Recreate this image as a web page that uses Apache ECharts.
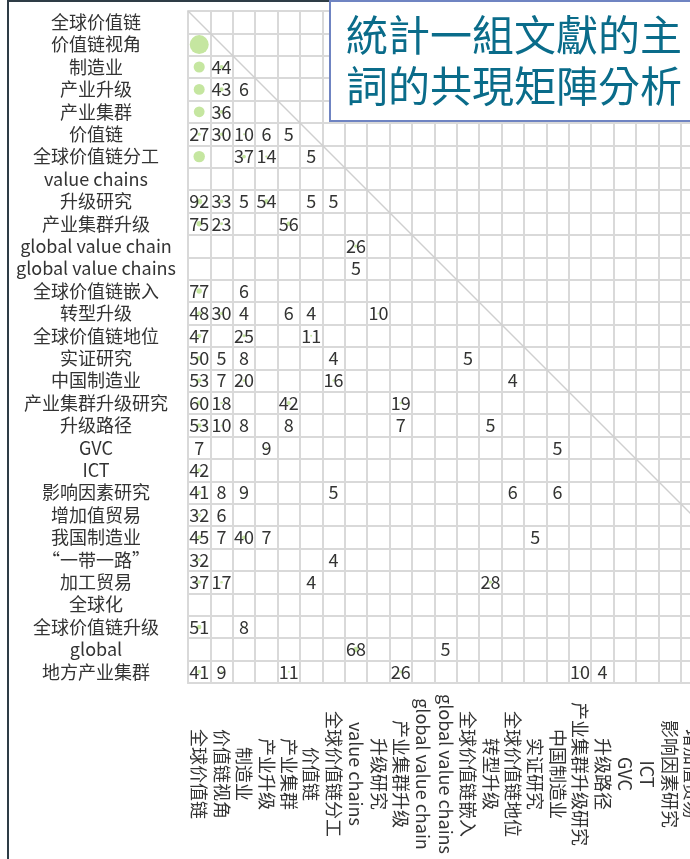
<!DOCTYPE html>
<html>
<head>
<meta charset="utf-8">
<script src="https://cdn.jsdelivr.net/npm/echarts@6/dist/echarts.min.js"></script>
<style>
html,body{margin:0;padding:0;overflow:hidden;background:#fff;width:690px;height:859px;}
#frame{position:absolute;left:7px;top:0;width:1000px;height:1000px;border-left:2px solid #2e3c46;border-top:2px solid #2e3c46;}
#chart{position:absolute;left:0;top:0;width:880px;height:859px;}
</style>
</head>
<body>
<div id="frame"></div>
<div id="chart"></div>
<script>
// keyword categories (rows top->bottom, columns left->right)
const terms = ['全球价值链','价值链视角','制造业','产业升级','产业集群','价值链','全球价值链分工','value chains','升级研究','产业集群升级','global value chain','global value chains','全球价值链嵌入','转型升级','全球价值链地位','实证研究','中国制造业','产业集群升级研究','升级路径','GVC','ICT','影响因素研究','增加值贸易','我国制造业','“一带一路”','加工贸易','全球化','全球价值链升级','global','地方产业集群'];

// co-occurrence cells: [rowIndex, colIndex, count]
const cooccurrence = [
  [1,0,940],
  [2,0,320],[2,1,44],
  [3,0,310],[3,1,43],[3,2,6],
  [4,0,300],[4,1,36],
  [5,0,27],[5,1,30],[5,2,10],[5,3,6],[5,4,5],
  [6,0,340],[6,2,37],[6,3,14],[6,5,5],
  [8,0,92],[8,1,33],[8,2,5],[8,3,54],[8,5,5],[8,6,5],
  [9,0,75],[9,1,23],[9,4,56],
  [10,7,26],
  [11,7,5],
  [12,0,77],[12,2,6],
  [13,0,48],[13,1,30],[13,2,4],[13,4,6],[13,5,4],[13,8,10],
  [14,0,47],[14,2,25],[14,5,11],
  [15,0,50],[15,1,5],[15,2,8],[15,6,4],[15,12,5],
  [16,0,53],[16,1,7],[16,2,20],[16,6,16],[16,14,4],
  [17,0,60],[17,1,18],[17,4,42],[17,9,19],
  [18,0,53],[18,1,10],[18,2,8],[18,4,8],[18,9,7],[18,13,5],
  [19,0,7],[19,3,9],[19,16,5],
  [20,0,42],
  [21,0,41],[21,1,8],[21,2,9],[21,6,5],[21,14,6],[21,16,6],
  [22,0,32],[22,1,6],
  [23,0,45],[23,1,7],[23,2,40],[23,3,7],[23,15,5],
  [24,0,32],[24,6,4],
  [25,0,37],[25,1,17],[25,5,4],[25,13,28],
  [27,0,51],[27,2,8],
  [28,7,68],[28,11,5],
  [29,0,41],[29,1,9],[29,4,11],[29,9,26],[29,17,10],[29,18,4]
];

const titleText = '統計一組文獻的主\n詞的共現矩陣分析';

const N = terms.length;
const scatterData = cooccurrence.map(d => [d[1], d[0], d[2]]);
const gridLine = {color:'#d9d9d9', width:2};
const FONT = 'Noto Sans CJK SC';

const chart = echarts.init(document.getElementById('chart'));
chart.setOption({
  animation:false,
  title:{
    text:titleText,
    left:330, top:1,
    padding:[9,16,9,16],
    borderColor:'#6f84c2', borderWidth:2,
    backgroundColor:'#ffffff',
    textStyle:{fontSize:42, lineHeight:51, fontWeight:'normal', color:'#0a6c8a', fontFamily:'Noto Sans CJK TC'}
  },
  grid:[
    {left:188, top:11, width:672, height:672},
    {left:188, top:11, width:672, height:672}
  ],
  xAxis:[
    {type:'category', data:terms, gridIndex:0, position:'bottom',
     axisLine:{show:true, lineStyle:gridLine}, axisTick:{show:false},
     splitLine:{show:true, interval:0, lineStyle:gridLine},
     axisLabel:{interval:0, rotate:-90, align:'center', verticalAlign:'middle', margin:91,
       fontSize:18, color:'#333', fontFamily:FONT}},
    {type:'value', gridIndex:1, min:0, max:N, show:false}
  ],
  yAxis:[
    {type:'category', data:terms, gridIndex:0, inverse:true,
     axisLine:{show:true, lineStyle:gridLine}, axisTick:{show:false},
     splitLine:{show:true, interval:0, lineStyle:gridLine},
     axisLabel:{interval:0, align:'center', margin:92, fontSize:18, color:'#333', fontFamily:FONT}},
    {type:'value', gridIndex:1, min:0, max:N, inverse:true, show:false}
  ],
  series:[
    {type:'line', xAxisIndex:1, yAxisIndex:1, data:[[0,0],[N,N]], symbol:'none', silent:true,
     lineStyle:{color:'#cfcfcf', width:1.5}, z:1},
    {type:'scatter', xAxisIndex:0, yAxisIndex:0, data:scatterData,
     symbolSize: v => Math.sqrt(v[2]) * 0.62,
     itemStyle:{color:'#c5e6a0', opacity:1},
     label:{show:true, position:'inside', fontSize:18, color:'#333', fontFamily:FONT,
       formatter: p => (p.value[2] < 100 ? String(p.value[2]) : '')},
     z:3}
  ]
});
</script>
</body>
</html>
